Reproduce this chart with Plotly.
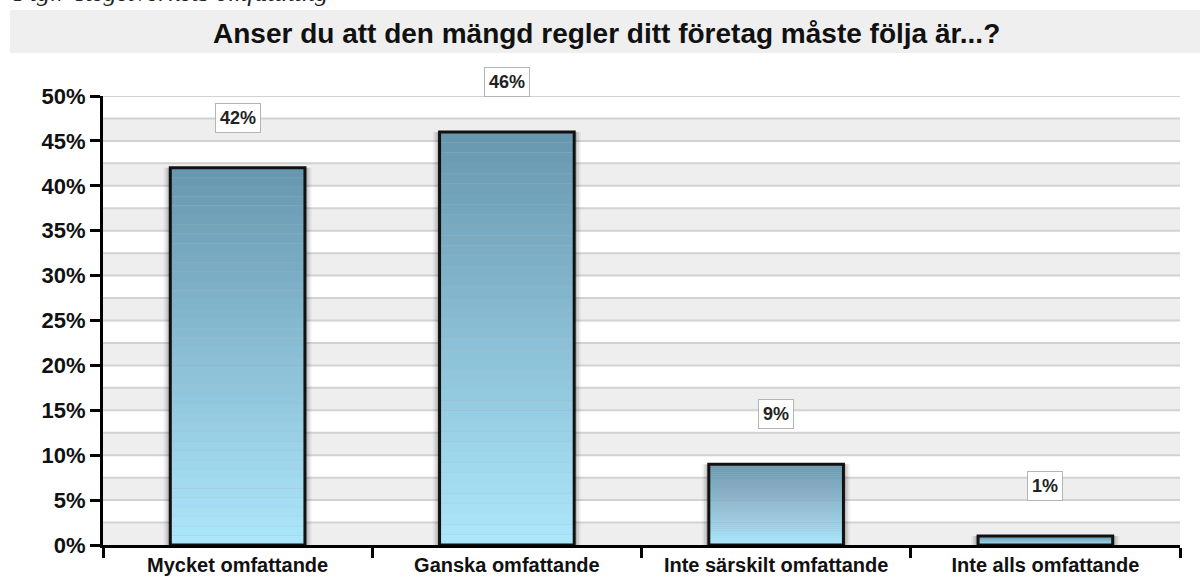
import plotly.graph_objects as go

categories = ["Mycket omfattande", "Ganska omfattande", "Inte särskilt omfattande", "Inte alls omfattande"]
values = [42, 46, 9, 1]
labels = ["42%", "46%", "9%", "1%"]
ytick_vals = [0, 5, 10, 15, 20, 25, 30, 35, 40, 45, 50]
ytick_text = ["0%", "5%", "10%", "15%", "20%", "25%", "30%", "35%", "40%", "45%", "50%"]
title_text = "Anser du att den mängd regler ditt företag måste följa är...?"
caption_text = "Fig.7 Regelverkets omfattning"

FONT = "Liberation Sans"
TOP_RGB = (104, 152, 176)
BOT_RGB = (172, 230, 250)
N_SEG = 40
BAR_W = 0.5

fig = go.Figure()

# soft shadow behind bars
for w, a in [(0.55, 0.05), (0.535, 0.09), (0.52, 0.14)]:
    fig.add_trace(go.Bar(x=categories, y=values, width=w,
                         marker=dict(color=f"rgba(0,0,0,{a})", line=dict(width=0)),
                         hoverinfo="skip", showlegend=False))

# gradient fill: each bar split into slices of its own value
for i in range(N_SEG):
    t = i / (N_SEG - 1)
    r = round(BOT_RGB[0] + (TOP_RGB[0] - BOT_RGB[0]) * t)
    g = round(BOT_RGB[1] + (TOP_RGB[1] - BOT_RGB[1]) * t)
    b = round(BOT_RGB[2] + (TOP_RGB[2] - BOT_RGB[2]) * t)
    fig.add_trace(go.Bar(
        x=categories,
        y=[v / N_SEG for v in values],
        base=[v * i / N_SEG for v in values],
        width=BAR_W,
        marker=dict(color=f"rgb({r},{g},{b})", line=dict(width=0)),
        hoverinfo="skip", showlegend=False))

# outline
fig.add_trace(go.Bar(x=categories, y=values, width=BAR_W,
                     marker=dict(color="rgba(0,0,0,0)", line=dict(color="#111111", width=3)),
                     showlegend=False))

# value labels
for c, v, lab in zip(categories, values, labels):
    fig.add_annotation(x=c, y=v, xref="x", yref="y", text=f"<b>{lab}</b>",
                       showarrow=False, yshift=50, yanchor="middle",
                       font=dict(family=FONT, size=18, color="#222222"),
                       bgcolor="white", bordercolor="#b4b4b4", borderwidth=1, borderpad=4)

shapes = []
# alternating bands
for k in range(10):
    y0 = k * 5
    shapes.append(dict(type="rect", xref="paper", yref="y", x0=0, x1=1, y0=y0, y1=y0 + 2.5,
                       fillcolor="#eeeeee", line=dict(width=0), layer="below"))
for k in range(1, 21):
    yv = k * 2.5
    shapes.append(dict(type="line", xref="paper", yref="y", x0=0, x1=1, y0=yv, y1=yv,
                       line=dict(color="#d2d2d2", width=2), layer="below"))
# title band
shapes.append(dict(type="rect", xref="paper", yref="paper", x0=-0.0864, x1=1.019,
                   y0=1.0958, y1=1.1915, fillcolor="#efefef", line=dict(width=0), layer="below"))

fig.add_annotation(xref="paper", yref="paper", x=0.4675, y=1.1437, yshift=-2, text=f"<b>{title_text}</b>",
                   showarrow=False, xanchor="center", yanchor="middle",
                   font=dict(family=FONT, size=28, color="#111111"))
fig.add_annotation(xref="paper", yref="paper", x=-0.085, y=1, yshift=104, text=f"<i>{caption_text}</i>",
                   showarrow=False, xanchor="left", yanchor="middle",
                   font=dict(family="Liberation Serif", size=26, color="#222222"))

fig.update_layout(
    width=1200, height=581,
    margin=dict(l=103, r=20, t=96, b=36, autoexpand=False),
    paper_bgcolor="white", plot_bgcolor="white",
    barmode="overlay", bargap=0.5,
    shapes=shapes,
    showlegend=False,
    xaxis=dict(type="category", categoryorder="array", categoryarray=categories,
               showline=True, linecolor="black", linewidth=3,
               ticks="outside", ticklen=10, tickwidth=3, tickcolor="black",
               tickson="boundaries", showgrid=False, automargin=False,
               tickfont=dict(family=FONT, size=20, color="#111111"),
               tickprefix="<b>", ticksuffix="</b>", range=[-0.5, 3.5]),
    yaxis=dict(range=[0, 50], tickvals=ytick_vals, ticktext=[f"<b>{t}</b>" for t in ytick_text],
               showline=True, linecolor="black", linewidth=3,
               ticks="outside", ticklen=10, tickwidth=3, tickcolor="black",
               showgrid=False, zeroline=False, automargin=False,
               tickfont=dict(family=FONT, size=22, color="#111111")),
)

fig.write_html("out.html", config={"displayModeBar": False},
               post_script="document.body.style.margin='0';document.body.style.overflow='hidden';")
